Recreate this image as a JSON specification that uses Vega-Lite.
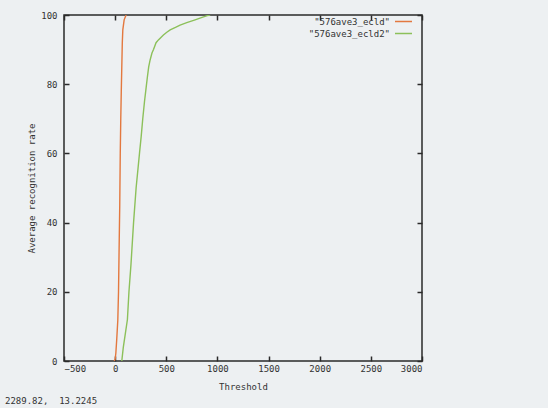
{
  "$schema": "https://vega.github.io/schema/vega-lite/v6.json",
  "width": 358,
  "height": 346,
  "autosize": {"type": "none"},
  "padding": {"left": 64, "top": 15, "right": 126, "bottom": 47},
  "background": "#edf0f2",
  "title": {
    "text": "2289.82,\u00a0 13.2245",
    "orient": "bottom",
    "anchor": "start",
    "frame": "group",
    "dx": -59,
    "offset": 6,
    "font": "DejaVu Sans Mono",
    "fontSize": 9,
    "fontWeight": "normal",
    "color": "#333333"
  },
  "config": {
    "font": "DejaVu Sans Mono",
    "view": {"stroke": "#2a2a2a", "strokeWidth": 1.5, "fill": "#edf0f2"}
  },
  "data": {
    "values": [
      {"series": "\"576ave3_ecld\"", "threshold": -10, "rate": 0},
      {"series": "\"576ave3_ecld\"", "threshold": 0, "rate": 0.5},
      {"series": "\"576ave3_ecld\"", "threshold": 7, "rate": 2.3},
      {"series": "\"576ave3_ecld\"", "threshold": 15, "rate": 6},
      {"series": "\"576ave3_ecld\"", "threshold": 26, "rate": 11.8},
      {"series": "\"576ave3_ecld\"", "threshold": 33, "rate": 20},
      {"series": "\"576ave3_ecld\"", "threshold": 40, "rate": 35},
      {"series": "\"576ave3_ecld\"", "threshold": 45, "rate": 45},
      {"series": "\"576ave3_ecld\"", "threshold": 50, "rate": 60},
      {"series": "\"576ave3_ecld\"", "threshold": 55, "rate": 70},
      {"series": "\"576ave3_ecld\"", "threshold": 60, "rate": 78},
      {"series": "\"576ave3_ecld\"", "threshold": 65, "rate": 85},
      {"series": "\"576ave3_ecld\"", "threshold": 70, "rate": 92},
      {"series": "\"576ave3_ecld\"", "threshold": 75, "rate": 95.7},
      {"series": "\"576ave3_ecld\"", "threshold": 88, "rate": 98.6},
      {"series": "\"576ave3_ecld\"", "threshold": 100, "rate": 99.5},
      {"series": "\"576ave3_ecld\"", "threshold": 108, "rate": 100},
      {"series": "\"576ave3_ecld2\"", "threshold": 65, "rate": 0},
      {"series": "\"576ave3_ecld2\"", "threshold": 80, "rate": 4},
      {"series": "\"576ave3_ecld2\"", "threshold": 100, "rate": 8},
      {"series": "\"576ave3_ecld2\"", "threshold": 120, "rate": 12},
      {"series": "\"576ave3_ecld2\"", "threshold": 135, "rate": 20},
      {"series": "\"576ave3_ecld2\"", "threshold": 155, "rate": 28},
      {"series": "\"576ave3_ecld2\"", "threshold": 180, "rate": 40},
      {"series": "\"576ave3_ecld2\"", "threshold": 205, "rate": 50},
      {"series": "\"576ave3_ecld2\"", "threshold": 238, "rate": 60},
      {"series": "\"576ave3_ecld2\"", "threshold": 255, "rate": 65},
      {"series": "\"576ave3_ecld2\"", "threshold": 270, "rate": 70},
      {"series": "\"576ave3_ecld2\"", "threshold": 287, "rate": 75},
      {"series": "\"576ave3_ecld2\"", "threshold": 303, "rate": 79},
      {"series": "\"576ave3_ecld2\"", "threshold": 315, "rate": 82},
      {"series": "\"576ave3_ecld2\"", "threshold": 328, "rate": 85},
      {"series": "\"576ave3_ecld2\"", "threshold": 342, "rate": 87},
      {"series": "\"576ave3_ecld2\"", "threshold": 360, "rate": 89},
      {"series": "\"576ave3_ecld2\"", "threshold": 375, "rate": 90},
      {"series": "\"576ave3_ecld2\"", "threshold": 400, "rate": 92},
      {"series": "\"576ave3_ecld2\"", "threshold": 423, "rate": 92.8},
      {"series": "\"576ave3_ecld2\"", "threshold": 450, "rate": 93.6},
      {"series": "\"576ave3_ecld2\"", "threshold": 472, "rate": 94.2},
      {"series": "\"576ave3_ecld2\"", "threshold": 505, "rate": 95},
      {"series": "\"576ave3_ecld2\"", "threshold": 538, "rate": 95.7},
      {"series": "\"576ave3_ecld2\"", "threshold": 590, "rate": 96.4},
      {"series": "\"576ave3_ecld2\"", "threshold": 635, "rate": 97.1},
      {"series": "\"576ave3_ecld2\"", "threshold": 700, "rate": 97.8},
      {"series": "\"576ave3_ecld2\"", "threshold": 782, "rate": 98.6},
      {"series": "\"576ave3_ecld2\"", "threshold": 850, "rate": 99.3},
      {"series": "\"576ave3_ecld2\"", "threshold": 900, "rate": 99.8},
      {"series": "\"576ave3_ecld2\"", "threshold": 929, "rate": 100}
    ]
  },
  "resolve": {"axis": {"x": "independent", "y": "independent"}},
  "layer": [
    {
      "mark": {"type": "line", "strokeWidth": 1.4, "clip": true},
      "encoding": {
        "x": {
          "field": "threshold",
          "type": "quantitative",
          "scale": {"domain": [-500, 3000], "nice": false, "zero": false},
          "axis": {
            "title": "Threshold",
            "values": [-500, 0, 500, 1000, 1500, 2000, 2500, 3000],
            "format": "d",
            "grid": false,
            "domain": false,
            "tickSize": -5,
            "tickColor": "#2a2a2a",
            "tickWidth": 1.5,
            "labelPadding": 8,
            "labelFontSize": 9,
            "labelColor": "#333333",
            "titleFontSize": 9,
            "titleFontWeight": "normal",
            "titleColor": "#333333",
            "titlePadding": 9
          }
        },
        "y": {
          "field": "rate",
          "type": "quantitative",
          "scale": {"domain": [0, 100], "nice": false},
          "axis": {
            "title": "Average recognition rate",
            "values": [0, 20, 40, 60, 80, 100],
            "grid": false,
            "domain": false,
            "tickSize": -5,
            "tickColor": "#2a2a2a",
            "tickWidth": 1.5,
            "labelPadding": 12,
            "labelFontSize": 9,
            "labelColor": "#333333",
            "titleFontSize": 9,
            "titleFontWeight": "normal",
            "titleColor": "#333333",
            "titlePadding": 4
          }
        },
        "color": {
          "field": "series",
          "type": "nominal",
          "scale": {"range": ["#e3783f", "#8cc05a"]},
          "legend": {
            "title": null,
            "orient": "none",
            "legendX": 333.5,
            "legendY": 0.5,
            "padding": 0,
            "symbolType": "M-1.7,0H1.7",
            "symbolSize": 100,
            "symbolStrokeWidth": 1.5,
            "symbolFillColor": "transparent",
            "labelAlign": "right",
            "labelOffset": -19.5,
            "labelFontSize": 9,
            "labelColor": "#333333",
            "rowPadding": 1
          }
        }
      }
    },
    {
      "mark": {"type": "line", "strokeOpacity": 0},
      "encoding": {
        "x": {
          "field": "threshold",
          "type": "quantitative",
          "axis": {
            "title": null,
            "labels": false,
            "values": [-500, 0, 500, 1000, 1500, 2000, 2500, 3000],
            "grid": false,
            "domain": false,
            "tickSize": -5,
            "tickColor": "#2a2a2a",
            "tickWidth": 1.5
          }
        },
        "y": {
          "field": "rate",
          "type": "quantitative",
          "axis": {
            "title": null,
            "labels": false,
            "values": [0, 20, 40, 60, 80, 100],
            "grid": false,
            "domain": false,
            "tickSize": -5,
            "tickColor": "#2a2a2a",
            "tickWidth": 1.5
          }
        },
        "detail": {"field": "series"}
      }
    }
  ]
}
